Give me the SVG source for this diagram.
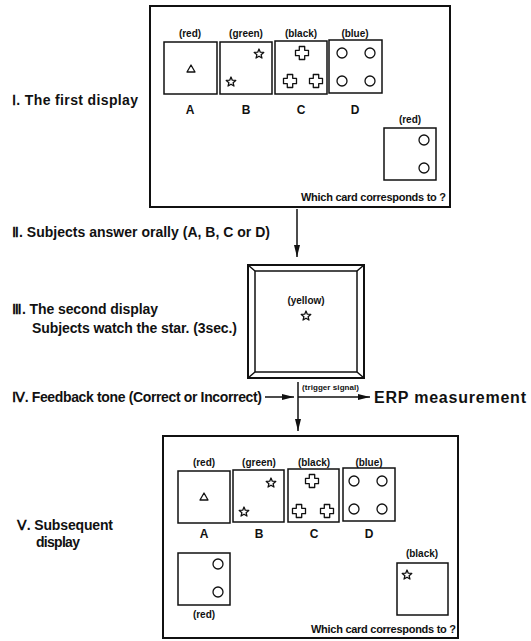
<svg xmlns="http://www.w3.org/2000/svg" width="531" height="641" viewBox="0 0 531 641">
<defs>
<style>
.t{font-family:"Liberation Sans",Arial,sans-serif;fill:#111;}
.lab{font-size:14px;font-weight:bold;}
.col{font-size:10px;font-weight:bold;text-anchor:middle;}
.let{font-size:12px;font-weight:bold;text-anchor:middle;}
.q{font-size:11px;font-weight:bold;text-anchor:end;}
.box{fill:#fff;stroke:#111;stroke-width:2;}
.card{fill:#fff;stroke:#111;stroke-width:1.5;}
.sym{fill:none;stroke:#111;stroke-width:1.3;stroke-linejoin:round;}
.ln{fill:none;stroke:#111;stroke-width:1.5;}
</style>
<path id="star" class="sym" d="M0,-5 L1.29,-1.78 L4.76,-1.55 L2.09,0.68 L2.94,4.05 L0,2.2 L-2.94,4.05 L-2.09,0.68 L-4.76,-1.55 L-1.29,-1.78 Z"/>
<path id="cross" class="sym" d="M-2.7,-6.5 H2.7 V-2.7 H6.5 V2.7 H2.7 V6.5 H-2.7 V2.7 H-6.5 V-2.7 H-2.7 Z"/>
<circle id="circ" class="sym" r="5"/>
<path id="tri" class="sym" d="M0,-4 L4,3 L-4,3 Z"/>
<marker id="ah" viewBox="0 0 12 6" refX="12" refY="3" markerWidth="12" markerHeight="6" markerUnits="userSpaceOnUse" orient="auto">
<path d="M0,0 L12,3 L0,6 Z" fill="#111"/>
</marker>
</defs>

<g id="label-I"><text class="t lab" x="12" y="105" textLength="126">Ⅰ. The first display</text></g>
<g id="label-II"><text class="t lab" x="12" y="237" textLength="258">Ⅱ. Subjects answer orally (A, B, C or D)</text></g>
<g id="label-III">
<text class="t lab" x="12" y="314" textLength="146">Ⅲ. The second display</text>
<text class="t lab" x="32" y="333" textLength="205">Subjects watch the star. (3sec.)</text>
</g>
<g id="label-IV"><text class="t lab" x="12" y="402" textLength="250">Ⅳ. Feedback tone (Correct or Incorrect)</text></g>
<g id="label-V">
<text class="t lab" x="17" y="530" textLength="96">Ⅴ. Subsequent</text>
<text class="t lab" x="36" y="547" textLength="44">display</text>
</g>
<g id="erp"><text class="t" x="374" y="403" font-size="16" font-weight="bold" textLength="152">ERP measurement</text></g>

<g id="first-display">
<rect class="box" x="150" y="6" width="300" height="201"/>
<text class="t col" x="190" y="37">(red)</text>
<text class="t col" x="246" y="37">(green)</text>
<text class="t col" x="301" y="37">(black)</text>
<text class="t col" x="355" y="37">(blue)</text>
<rect class="card" x="164" y="42" width="53" height="52"/>
<rect class="card" x="220" y="42" width="52" height="52"/>
<rect class="card" x="275" y="41" width="52" height="53"/>
<rect class="card" x="329" y="40" width="53" height="53"/>
<use href="#tri" x="191" y="69"/>
<use href="#star" x="259" y="54"/>
<use href="#star" x="231" y="82"/>
<use href="#cross" x="302" y="53"/>
<use href="#cross" x="290" y="81"/>
<use href="#cross" x="316" y="81"/>
<use href="#circ" x="342" y="53"/>
<use href="#circ" x="370" y="53"/>
<use href="#circ" x="342" y="81"/>
<use href="#circ" x="370" y="81"/>
<text class="t let" x="190" y="114">A</text>
<text class="t let" x="246" y="114">B</text>
<text class="t let" x="301" y="114">C</text>
<text class="t let" x="355" y="114">D</text>
<text class="t col" x="410" y="123">(red)</text>
<rect class="card" x="384" y="128" width="52" height="52"/>
<use href="#circ" x="424" y="140"/>
<use href="#circ" x="424" y="168"/>
<text class="t q" x="446" y="201" textLength="145">Which card corresponds to ?</text>
</g>

<g id="second-display">
<rect class="box" x="248" y="265" width="116" height="113"/>
<rect class="card" x="255" y="271" width="102" height="101"/>
<path class="ln" d="M248,265 L255,271 M364,265 L357,271 M248,378 L255,372 M364,378 L357,372" stroke-width="1.2"/>
<text class="t col" x="306" y="304">(yellow)</text>
<use href="#star" x="306" y="316"/>
</g>

<g id="subsequent-display">
<rect class="box" x="163" y="436" width="295" height="202"/>
<text class="t col" x="204" y="466">(red)</text>
<text class="t col" x="259" y="466">(green)</text>
<text class="t col" x="314" y="466">(black)</text>
<text class="t col" x="369" y="466">(blue)</text>
<rect class="card" x="178" y="471" width="52" height="52"/>
<rect class="card" x="233" y="470" width="51" height="52"/>
<rect class="card" x="288" y="469" width="51" height="53"/>
<rect class="card" x="343" y="468" width="52" height="53"/>
<use href="#tri" x="204" y="497"/>
<use href="#star" x="271" y="483"/>
<use href="#star" x="244" y="512"/>
<use href="#cross" x="312" y="481"/>
<use href="#cross" x="299" y="511"/>
<use href="#cross" x="327" y="511"/>
<use href="#circ" x="354" y="481"/>
<use href="#circ" x="382" y="481"/>
<use href="#circ" x="354" y="509"/>
<use href="#circ" x="382" y="509"/>
<text class="t let" x="204" y="538">A</text>
<text class="t let" x="259" y="538">B</text>
<text class="t let" x="314" y="538">C</text>
<text class="t let" x="369" y="538">D</text>
<rect class="card" x="178" y="553" width="52" height="52"/>
<use href="#circ" x="218" y="564"/>
<use href="#circ" x="218" y="592"/>
<text class="t col" x="204" y="618">(red)</text>
<text class="t col" x="422" y="557">(black)</text>
<rect class="card" x="397" y="563" width="51" height="52"/>
<use href="#star" x="407" y="575"/>
<text class="t q" x="456" y="633" textLength="145">Which card corresponds to ?</text>
</g>

<g id="connectors">
<line class="ln" x1="297" y1="209" x2="297" y2="257" marker-end="url(#ah)"/>
<line class="ln" x1="265" y1="397" x2="294" y2="397" marker-end="url(#ah)"/>
<line class="ln" x1="298" y1="382" x2="298" y2="431" marker-end="url(#ah)"/>
<line class="ln" x1="298" y1="397" x2="370" y2="397" marker-end="url(#ah)"/>
<text class="t" x="302" y="390" font-size="8" font-weight="bold" textLength="57">(trigger signal)</text>
</g>
</svg>
